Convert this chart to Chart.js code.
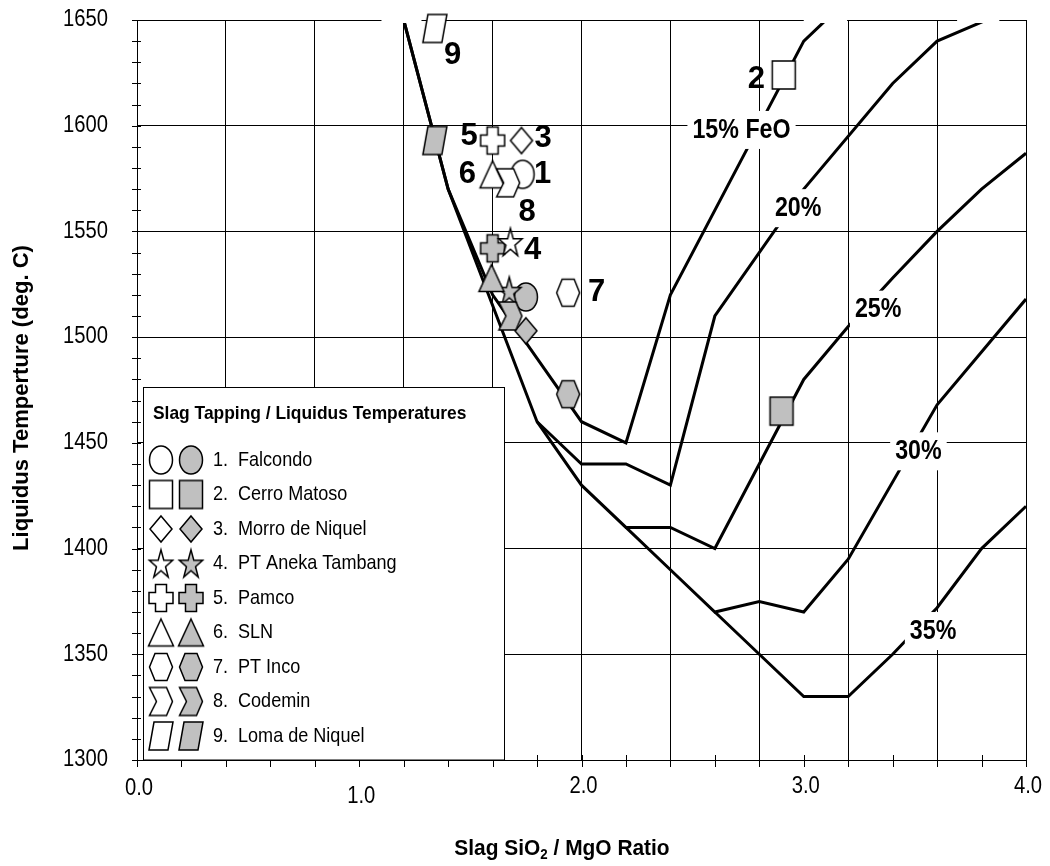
<!DOCTYPE html>
<html>
<head>
<meta charset="utf-8">
<script src="https://cdn.jsdelivr.net/npm/chart.js@4.4.1/dist/chart.umd.min.js"></script>
<style>
  html, body { margin: 0; padding: 0; background: #fff; }
  #wrap { width: 1050px; height: 866px; }
</style>
</head>
<body>
<div id="wrap"><canvas id="chart" width="1050" height="866"></canvas></div>
<script>
/* ===== DATA ===== */
const plantNames = ["Falcondo", "Cerro Matoso", "Morro de Niquel", "PT Aneka Tambang", "Pamco",
                    "SLN", "PT Inco", "Codemin", "Loma de Niquel"];
const plantShapes = ["ellipse", "square", "diamond", "star", "cross", "triangle", "hexagon", "chevron", "parallelogram"];

// slag tapping temperature (open symbols)
const tapRatio = [1.735, 2.91, 1.73, 1.68, 1.60, 1.60, 1.94, 1.67, 1.34];
const tapTemp  = [1577, 1624, 1593, 1545, 1593, 1577, 1521, 1573, 1646];
// liquidus temperature (filled symbols)
const liqRatio = [1.75, 2.90, 1.75, 1.675, 1.60, 1.595, 1.94, 1.68, 1.34];
const liqTemp  = [1519, 1465, 1503, 1522, 1542, 1528, 1473, 1510, 1593];

// FeO liquidus isotherms
const feoNames = ["15% FeO", "20%", "25%", "30%", "35%"];
const feo15X = [1.2, 1.4, 1.6, 1.8, 2.0, 2.2, 2.4, 3.0, 3.2];
const feo15Y = [1650, 1570, 1520, 1490, 1460, 1450, 1520, 1640, 1660];
const feo20X = [1.2, 1.4, 1.8, 2.0, 2.2, 2.4, 2.6, 3.0, 3.4, 3.6, 4.0];
const feo20Y = [1650, 1570, 1460, 1440, 1440, 1430, 1510, 1570, 1620, 1640, 1658];
const feo25X = [1.8, 2.0, 2.2, 2.4, 2.6, 3.0, 3.2, 3.4, 3.6, 3.8, 4.0];
const feo25Y = [1460, 1430, 1410, 1410, 1400, 1480, 1505, 1528, 1550, 1570, 1587];
const feo30X = [2.2, 2.4, 2.6, 2.8, 3.0, 3.2, 3.6, 4.0];
const feo30Y = [1410, 1390, 1370, 1375, 1370, 1395, 1468, 1518];
const feo35X = [2.6, 2.8, 3.0, 3.2, 3.4, 3.6, 3.8, 4.0];
const feo35Y = [1370, 1350, 1330, 1330, 1350, 1372, 1400, 1420];

// tick labels
const xTickLabels = [0, 1, 2, 3, 4];
const yTickLabels = [1300, 1350, 1400, 1450, 1500, 1550, 1600, 1650];

/* ===== STYLE ===== */
const FONT = '"Liberation Sans", Arial, sans-serif';
const OPEN = "#ffffff";
const FILLED = "#c0c0c0";

// where the text labels sit (data units)
const curveLabelAt = [[2.72, 1598], [2.975, 1561], [3.335, 1513], [3.516, 1446], [3.582, 1361]];
const numberLabelAt = [[1.825, 1577], [2.787, 1622], [1.827, 1594], [1.78, 1541], [1.494, 1595],
                       [1.487, 1577], [2.068, 1521], [1.755, 1559], [1.42, 1633]];
const xLabelDrop = [29, 37, 27, 27, 27];
// white patches along the top edge where the curves leave the plot
const topMasks = [[1.10, 1.28], [3.0, 3.195], [3.69, 3.88]];

/* ===== MARKERS ===== */
function shapePath(g, shape) {
    const poly = pts => {
        g.moveTo(pts[0][0], pts[0][1]);
        for (let i = 1; i < pts.length; i++) g.lineTo(pts[i][0], pts[i][1]);
        g.closePath();
    };
    g.beginPath();
    switch (shape) {
        case "ellipse": g.ellipse(0, 0, 11.5, 14, 0, 0, Math.PI * 2); break;
        case "square": g.rect(-11.5, -14, 23, 28); break;
        case "diamond": poly([[0, -13], [11, 0], [0, 13], [-11, 0]]); break;
        case "star": {
            const pts = [];
            for (let i = 0; i < 10; i++) {
                const r = i % 2 ? 5.8 : 15;
                const a = -Math.PI / 2 + i * Math.PI / 5;
                pts.push([Math.cos(a) * r * 0.82, Math.sin(a) * r + 1.4]);
            }
            poly(pts);
            break;
        }
        case "cross": poly([[-5.5, -13.5], [5.5, -13.5], [5.5, -5.5], [12, -5.5], [12, 5.5], [5.5, 5.5],
                            [5.5, 13.5], [-5.5, 13.5], [-5.5, 5.5], [-12, 5.5], [-12, -5.5], [-5.5, -5.5]]); break;
        case "triangle": poly([[0, -13.5], [12.5, 13.5], [-12.5, 13.5]]); break;
        case "hexagon": poly([[-11.5, 0], [-6, -13.5], [6, -13.5], [11.5, 0], [6, 13.5], [-6, 13.5]]); break;
        case "chevron": poly([[-11.5, -14], [5.5, -14], [11.5, 0], [5.5, 14], [-11.5, 14], [-4.5, 0]]); break;
        case "parallelogram": poly([[-7, -14], [12, -14], [7, 14], [-12, 14]]); break;
    }
}

function makeMarker(shape, fill) {
    const c = document.createElement("canvas");
    c.width = 32; c.height = 34;
    const g = c.getContext("2d");
    g.translate(16, 17);
    shapePath(g, shape);
    g.fillStyle = fill;
    g.fill();
    g.lineWidth = 1.5;
    g.strokeStyle = "#000";
    g.stroke();
    return c;
}

const openMarkers = plantShapes.map(s => makeMarker(s, OPEN));
const filledMarkers = plantShapes.map(s => makeMarker(s, FILLED));

/* ===== HELPERS ===== */
function toPoints(xs, ys) {
    return xs.map((x, i) => ({ x: x, y: ys[i] }));
}

// text squeezed horizontally by sx, like the original export
function drawText(ctx, txt, x, y, font, align, sx) {
    ctx.save();
    ctx.translate(x, y);
    ctx.scale(sx || 1, 1);
    ctx.font = font;
    ctx.textAlign = align || "center";
    ctx.textBaseline = "middle";
    ctx.fillStyle = "#000";
    ctx.fillText(txt, 0, 0);
    ctx.restore();
}

function textWidth(ctx, txt, font, sx) {
    ctx.save();
    ctx.font = font;
    const w = ctx.measureText(txt).width * (sx || 1);
    ctx.restore();
    return w;
}

function onStep(v, step) {
    const q = v / step;
    return Math.abs(q - Math.round(q)) < 1e-6;
}

/* ===== PLUGINS ===== */
const curveLabels = {
    id: "curveLabels",
    afterDatasetDraw(chart, args) {
        // after the last curve, before the symbols: clean the top edge
        if (args.index !== 2) return;
        const { ctx, chartArea: area, scales: { x } } = chart;
        ctx.save();
        ctx.fillStyle = "#fff";
        topMasks.forEach(m => {
            const x0 = x.getPixelForValue(m[0]), x1 = x.getPixelForValue(m[1]);
            ctx.fillRect(x0, area.top - 6, x1 - x0, 9);
        });
        ctx.restore();
    },
    afterDatasetsDraw(chart) {
        const { ctx, scales: { x, y } } = chart;
        const f = "bold 28px " + FONT;
        feoNames.forEach((name, i) => {
            const px = x.getPixelForValue(curveLabelAt[i][0]);
            const py = y.getPixelForValue(curveLabelAt[i][1]);
            const w = textWidth(ctx, name, f, 0.83);
            ctx.fillStyle = "#fff";
            ctx.fillRect(px - w / 2 - 5, py - 19, w + 10, 38);
            drawText(ctx, name, px, py, f, "center", 0.83);
        });
        numberLabelAt.forEach((p, i) => {
            drawText(ctx, String(i + 1), x.getPixelForValue(p[0]), y.getPixelForValue(p[1]),
                     "bold 31px " + FONT, "center", 1);
        });
    }
};

const axisDecor = {
    id: "axisDecor",
    afterDraw(chart) {
        const { ctx, chartArea: area, scales: { x, y } } = chart;

        /* tick marks crossing the axes */
        ctx.save();
        ctx.strokeStyle = "#000";
        ctx.lineWidth = 1;
        ctx.beginPath();
        y.ticks.forEach(t => {
            const py = Math.round(y.getPixelForValue(t.value)) + 0.5;
            ctx.moveTo(area.left - 5, py);
            ctx.lineTo(area.left + 4, py);
        });
        x.ticks.forEach(t => {
            const px = Math.round(x.getPixelForValue(t.value)) + 0.5;
            ctx.moveTo(px, area.bottom - 5);
            ctx.lineTo(px, area.bottom + 7);
        });
        ctx.stroke();
        ctx.restore();

        /* legend box */
        const lx = 143.5, ly = 387.5, lw = 361, lh = area.bottom - 387.5;
        ctx.save();
        ctx.fillStyle = "#fff";
        ctx.fillRect(lx, ly, lw, lh);
        ctx.strokeStyle = "#000";
        ctx.lineWidth = 1;
        ctx.strokeRect(lx, ly, lw, lh);
        ctx.restore();
        drawText(ctx, "Slag Tapping / Liquidus Temperatures", 153, 414, "bold 18.5px " + FONT, "left", 0.94);
        plantNames.forEach((name, i) => {
            const ry = 460 + i * 34.5;
            ctx.drawImage(openMarkers[i], 161 - 16, ry - 17);
            ctx.drawImage(filledMarkers[i], 191 - 16, ry - 17);
            drawText(ctx, (i + 1) + ".", 213, ry, "21px " + FONT, "left", 0.86);
            drawText(ctx, name, 238, ry, "21px " + FONT, "left", 0.86);
        });

        /* tick labels */
        yTickLabels.forEach(v => {
            drawText(ctx, String(v), 108, y.getPixelForValue(v), "23px " + FONT, "right", 0.88);
        });
        xTickLabels.forEach((v, i) => {
            drawText(ctx, v.toFixed(1), x.getPixelForValue(v) + 2, area.bottom + xLabelDrop[i], "23px " + FONT, "center", 0.88);
        });

        /* axis titles */
        ctx.save();
        ctx.translate(22, 398);
        ctx.rotate(-Math.PI / 2);
        drawText(ctx, "Liquidus Temperture (deg. C)", 0, 0, "bold 22.5px " + FONT, "center", 0.98);
        ctx.restore();

        const fa = "bold 22px " + FONT, fs = "bold 14px " + FONT, sx = 0.95;
        const a = "Slag SiO", b = " / MgO Ratio";
        const wa = textWidth(ctx, a, fa, sx), ws = textWidth(ctx, "2", fs, sx), wb = textWidth(ctx, b, fa, sx);
        const tx = 562 - (wa + ws + wb) / 2;
        drawText(ctx, a, tx, 849, fa, "left", sx);
        drawText(ctx, "2", tx + wa, 855, fs, "left", sx);
        drawText(ctx, b, tx + wa + ws, 849, fa, "left", sx);
    }
};

/* ===== CHART ===== */
const lineStyle = {
    showLine: true,
    borderColor: "#000",
    borderWidth: 3,
    pointRadius: 0,
    fill: false,
    tension: 0,
    order: 2
};

new Chart(document.getElementById("chart"), {
    type: "scatter",
    data: {
        datasets: [
            { label: "Tapping", data: toPoints(tapRatio, tapTemp), pointStyle: openMarkers, pointRadius: 12, order: 0, clip: false },
            { label: "Liquidus", data: toPoints(liqRatio, liqTemp), pointStyle: filledMarkers, pointRadius: 12, order: 1, clip: false },
            Object.assign({ label: feoNames[0], data: toPoints(feo15X, feo15Y) }, lineStyle),
            Object.assign({ label: feoNames[1], data: toPoints(feo20X, feo20Y) }, lineStyle),
            Object.assign({ label: feoNames[2], data: toPoints(feo25X, feo25Y) }, lineStyle),
            Object.assign({ label: feoNames[3], data: toPoints(feo30X, feo30Y) }, lineStyle),
            Object.assign({ label: feoNames[4], data: toPoints(feo35X, feo35Y) }, lineStyle)
        ]
    },
    options: {
        responsive: false,
        animation: false,
        devicePixelRatio: 1,
        layout: { padding: { left: 0, right: 24, top: 20, bottom: 0 } },
        plugins: {
            legend: { display: false },
            tooltip: { enabled: false }
        },
        scales: {
            x: {
                type: "linear",
                min: 0, max: 4,
                afterFit(scale) { scale.height = 106; },
                ticks: { display: false, stepSize: 0.2, maxTicksLimit: 100 },
                grid: {
                    drawTicks: false,
                    color: c => onStep(c.tick.value, 0.4) ? "#000" : "rgba(0,0,0,0)",
                    lineWidth: 1
                },
                border: { display: true, color: "#000", width: 1 }
            },
            y: {
                type: "linear",
                min: 1300, max: 1650,
                afterFit(scale) { scale.width = 137; },
                ticks: { display: false, stepSize: 10, maxTicksLimit: 100 },
                grid: {
                    drawTicks: false,
                    color: c => onStep(c.tick.value, 50) ? "#000" : "rgba(0,0,0,0)",
                    lineWidth: 1
                },
                border: { display: true, color: "#000", width: 1 }
            }
        }
    },
    plugins: [curveLabels, axisDecor]
});
</script>
</body>
</html>
